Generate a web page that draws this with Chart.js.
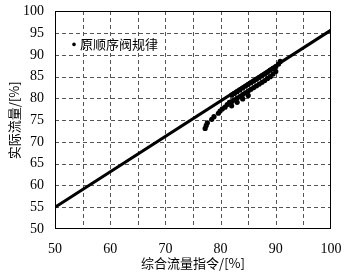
<!DOCTYPE html>
<html>
<head>
<meta charset="utf-8">
<script src="https://cdn.jsdelivr.net/npm/chart.js@4/dist/chart.umd.min.js"></script>
<style>
  html, body { margin: 0; padding: 0; background: #fff; }
  #wrap { width: 346px; height: 275px; position: relative; }
  #grid { position: absolute; left: 0; top: 0; z-index: 0; }
  #chart { position: absolute; left: 0; top: 0; z-index: 1; }
</style>
</head>
<body>
<div id="wrap">
  <svg id="grid" width="346" height="275" xmlns="http://www.w3.org/2000/svg"></svg>
  <canvas id="chart" width="346" height="275"></canvas>
</div>
<script>
// 原顺序阀规律 - measured points
const pointsX = [77.2, 77.4, 77.6, 78.4, 78.8, 79.6, 79.9, 80.3, 80.8, 81.2, 81.6,
  82.0, 82.0, 82.0, 82.5, 82.5, 83.0, 83.0, 83.0, 83.5, 83.5, 84.0, 84.0, 84.0, 84.5, 84.5,
  85.0, 85.0, 85.0, 85.5, 85.5, 86.0, 86.0, 86.5, 86.5, 87.0, 87.0, 87.5, 87.5, 88.0, 88.0,
  88.5, 88.5, 89.0, 89.0, 89.5, 89.5, 90.0, 90.0, 90.5, 90.8];
const pointsY = [73.1, 73.8, 74.4, 75.2, 75.8, 76.6, 77.1, 77.6, 78.0, 78.6, 79.1,
  80.75, 79.25, 78.3, 81.15, 79.65, 81.55, 80.05, 79.1, 81.95, 80.45, 82.4, 80.9, 79.9, 82.8, 81.3,
  83.2, 81.7, 80.7, 83.6, 82.1, 84.0, 82.5, 84.4, 82.9, 84.8, 83.3, 85.2, 83.7, 85.6, 84.1,
  86.0, 84.6, 86.5, 85.0, 86.9, 85.6, 87.3, 86.2, 87.9, 88.5];

// reference line
const lineX = [50, 100];
const lineY = [55, 95.7];

const legendLabel = '原顺序阀规律';
const xTitle = '综合流量指令/[%]';
const yTitle = '实际流量/[%]';

const serif = '"Liberation Serif", "DejaVu Serif", serif';
const cjk = '"Noto Sans CJK SC", sans-serif';

const insideLegend = {
  id: 'insideLegend',
  afterDraw(chart) {
    const { ctx, chartArea } = chart;
    const x = chartArea.left + 19;
    const y = chartArea.top + 33;
    ctx.save();
    ctx.fillStyle = '#000';
    ctx.beginPath();
    ctx.arc(x, y, 1.8, 0, Math.PI * 2);
    ctx.fill();
    ctx.font = '13px ' + cjk;
    ctx.textBaseline = 'middle';
    ctx.fillText(legendLabel, x + 6, y);
    ctx.restore();
  }
};

const frame = {
  id: 'frame',
  afterDraw(chart) {
    // solid frame round the plot area
    const { ctx, chartArea: a } = chart;
    const left = Math.round(a.left), top = Math.round(a.top);
    const w = Math.round(a.right) - left, h = Math.round(a.bottom) - top;
    ctx.save();
    ctx.fillStyle = '#000';
    ctx.fillRect(left, top, w, 1);
    ctx.fillRect(left, top + h - 1, w, 1);
    ctx.fillRect(left, top, 1, h);
    ctx.fillRect(left + w - 1, top, 1, h);
    ctx.restore();
  }
};

const chart = new Chart(document.getElementById('chart'), {
  type: 'scatter',
  data: {
    datasets: [
      {
        label: legendLabel,
        data: pointsX.map((v, i) => ({ x: v, y: pointsY[i] })),
        backgroundColor: '#000',
        borderColor: '#000',
        pointRadius: 2.6,
        pointBorderWidth: 0
      },
      {
        label: 'line',
        type: 'line',
        data: lineX.map((v, i) => ({ x: v, y: lineY[i] })),
        borderColor: '#000',
        borderWidth: 3,
        pointRadius: 0,
        fill: false
      }
    ]
  },
  options: {
    responsive: false,
    animation: false,
    layout: { padding: { top: 11, right: 15, left: 0, bottom: 0 } },
    plugins: {
      legend: { display: false },
      tooltip: { enabled: false }
    },
    scales: {
      x: {
        type: 'linear',
        min: 50,
        max: 100,
        afterFit: s => { s.height = 46; },
        border: { display: false },
        grid: { display: false },
        ticks: {
          stepSize: 5,
          padding: 4,
          color: '#000',
          font: { family: serif, size: 14 },
          callback: v => (v % 10 === 0 ? v : '')
        },
        title: {
          display: true,
          text: xTitle,
          color: '#000',
          font: { family: cjk, size: 13 },
          padding: { top: 6 }
        }
      },
      y: {
        type: 'linear',
        min: 50,
        max: 100,
        afterFit: s => { s.width = 55; },
        border: { display: false },
        grid: { display: false },
        ticks: {
          stepSize: 5,
          padding: 3,
          color: '#000',
          font: { family: serif, size: 14 }
        },
        title: {
          display: true,
          text: yTitle,
          color: '#000',
          font: { family: cjk, size: 13 },
          padding: { top: 6, bottom: 2 }
        }
      }
    }
  },
  plugins: [insideLegend, frame]
});

// dashed grid behind the (transparent) canvas, placed from the chart's own scales
const svg = document.getElementById('grid');
const a = chart.chartArea;
const addLine = (x1, y1, x2, y2) => {
  const l = document.createElementNS('http://www.w3.org/2000/svg', 'line');
  l.setAttribute('x1', x1); l.setAttribute('y1', y1);
  l.setAttribute('x2', x2); l.setAttribute('y2', y2);
  l.setAttribute('stroke', '#555');
  l.setAttribute('stroke-width', '1');
  l.setAttribute('stroke-dasharray', '4 3');
  l.setAttribute('shape-rendering', 'crispEdges');
  svg.appendChild(l);
};
chart.scales.x.ticks.forEach(t => {
  const px = Math.round(chart.scales.x.getPixelForValue(t.value)) + 0.5;
  if (px > a.left + 1 && px < a.right - 1) addLine(px, a.top, px, a.bottom);
});
chart.scales.y.ticks.forEach(t => {
  const py = Math.round(chart.scales.y.getPixelForValue(t.value)) + 0.5;
  if (py > a.top + 1 && py < a.bottom - 1) addLine(a.left, py, a.right, py);
});
</script>
</body>
</html>
